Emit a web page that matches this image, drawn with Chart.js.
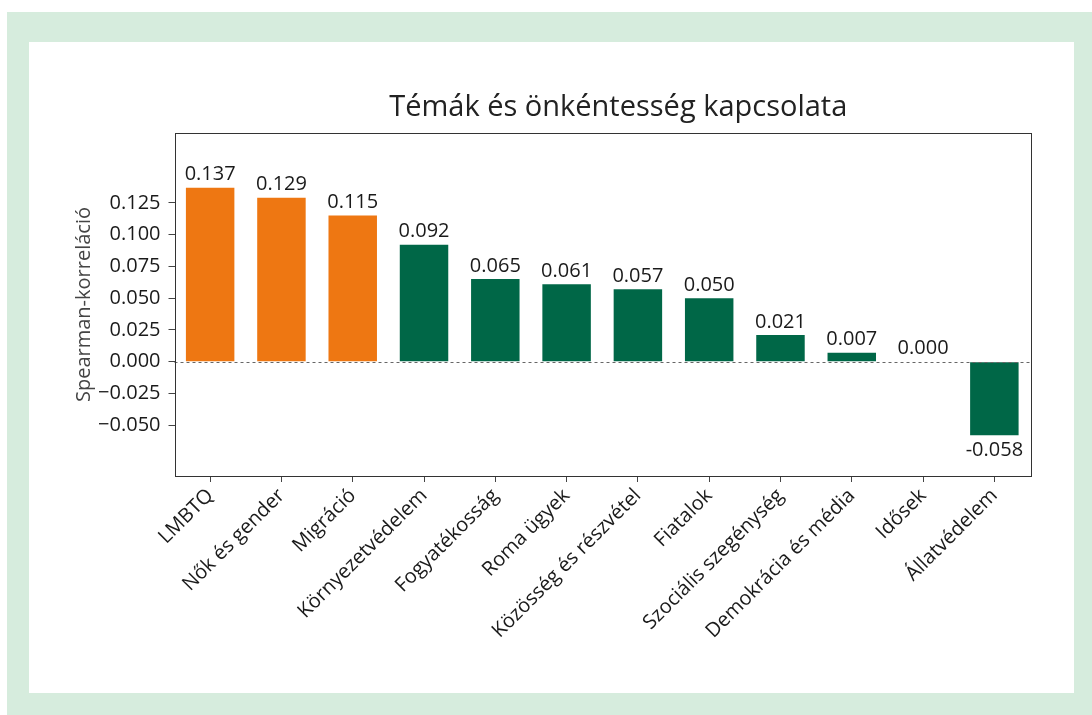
<!DOCTYPE html>
<html>
<head>
<meta charset="utf-8">
<script src="https://cdn.jsdelivr.net/npm/chart.js@4/dist/chart.umd.min.js"></script>
<style>
    html, body { margin: 0; padding: 0; background: #fff; }
    #frame { position: absolute; left: 7px; top: 12px; width: 1085px; height: 703px; background: #d6ecdd; }
    #panel { position: absolute; left: 29px; top: 42px; width: 1045px; height: 651px; background: #fff; }
    canvas { display: block; }
</style>
</head>
<body>
<div id="frame"></div>
<div id="panel"><canvas id="chart" width="1045" height="651"></canvas></div>
<script>
const TITLE = 'Témák és önkéntesség kapcsolata';
const Y_TITLE = 'Spearman-korreláció';

const topics = ['LMBTQ', 'Nők és gender', 'Migráció', 'Környezetvédelem', 'Fogyatékosság', 'Roma ügyek',
    'Közösség és részvétel', 'Fiatalok', 'Szociális szegénység', 'Demokrácia és média', 'Idősek', 'Állatvédelem'];
const correlations = [0.137, 0.129, 0.115, 0.092, 0.065, 0.061, 0.057, 0.050, 0.021, 0.007, 0.000, -0.058];
const highlighted = [true, true, true, false, false, false, false, false, false, false, false, false];
const yTicks = [-0.05, -0.025, 0, 0.025, 0.05, 0.075, 0.1, 0.125];

const ORANGE = '#ee7712';
const GREEN = '#006747';
const FONT = "'Open Sans', sans-serif";

drawChart('#chart');

function drawChart(selector) {
    const ctx = document.querySelector(selector);

    const framePlugin = {
        id: 'frame',
        afterDatasetsDraw(chart) {
            const { ctx, chartArea: a, scales: { y } } = chart;
            const zero = y.getPixelForValue(0);

            ctx.save();
            ctx.strokeStyle = '#666';
            ctx.lineWidth = 1;
            ctx.setLineDash([3, 3]);
            ctx.beginPath();
            ctx.moveTo(a.left, Math.round(zero) + 0.5);
            ctx.lineTo(a.right, Math.round(zero) + 0.5);
            ctx.stroke();
            ctx.setLineDash([]);
            ctx.strokeStyle = '#333';
            ctx.strokeRect(Math.round(a.left) + 0.5, Math.round(a.top) + 0.5,
                Math.round(a.right - a.left), Math.round(a.bottom - a.top));

            // value labels
            const meta = chart.getDatasetMeta(0);
            ctx.fillStyle = '#1a1a1a';
            ctx.font = `20px ${FONT}`;
            ctx.textAlign = 'center';
            meta.data.forEach((bar, i) => {
                const v = correlations[i];
                if (v < 0) {
                    ctx.textBaseline = 'top';
                    ctx.fillText(v.toFixed(3), bar.x, bar.y + 5);
                } else {
                    ctx.textBaseline = 'bottom';
                    ctx.fillText(v.toFixed(3), bar.x, bar.y - 3);
                }
            });

            // title
            ctx.fillStyle = '#222';
            ctx.font = `29px ${FONT}`;
            ctx.textBaseline = 'middle';
            ctx.fillText(TITLE, (a.left + a.right) / 2 + 16, 66);
            ctx.restore();
        }
    };

    new Chart(ctx, {
        type: 'bar',
        data: {
            labels: topics,
            datasets: [{
                data: correlations,
                backgroundColor: highlighted.map(h => h ? ORANGE : GREEN),
                borderWidth: 0,
                categoryPercentage: 1,
                barPercentage: 0.68
            }]
        },
        options: {
            responsive: false,
            animation: false,
            events: [],
            layout: { padding: { top: 91, right: 44, left: 0, bottom: 0 } },
            plugins: {
                legend: { display: false },
                tooltip: { enabled: false },
                title: { display: false }
            },
            scales: {
                x: {
                    border: { display: false },
                    grid: { display: true, offset: false, drawOnChartArea: false, drawTicks: true, tickLength: 6, color: '#444' },
                    ticks: {
                        autoSkip: false, minRotation: 45, maxRotation: 45, padding: 2,
                        color: '#1a1a1a', font: { family: FONT, size: 20 }
                    },
                    afterFit(scale) { scale.height = 217; }
                },
                y: {
                    min: -0.09,
                    max: 0.18,
                    border: { display: false },
                    grid: { display: true, drawOnChartArea: false, drawTicks: true, tickLength: 6, color: '#444' },
                    afterBuildTicks(scale) { scale.ticks = yTicks.map(v => ({ value: v })); },
                    ticks: {
                        padding: 8, color: '#1a1a1a', font: { family: FONT, size: 20 },
                        callback: v => v.toFixed(3).replace('-', '\u2212')
                    },
                    title: {
                        display: true, text: Y_TITLE, color: '#444',
                        font: { family: FONT, size: 20 }, padding: { top: 43, bottom: 0 }
                    },
                    afterFit(scale) { scale.width = 145.5; }
                }
            }
        },
        plugins: [framePlugin]
    });
}
</script>
</body>
</html>
